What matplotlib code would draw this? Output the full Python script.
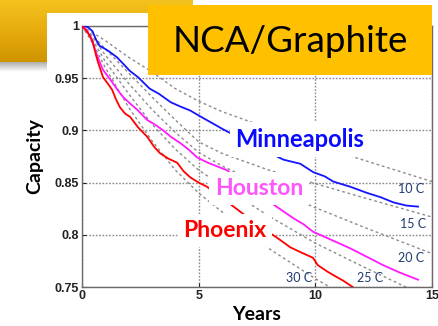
import numpy as np
import matplotlib.pyplot as plt
from matplotlib.patches import Rectangle
from matplotlib.colors import LinearSegmentedColormap

# capacity fade of NCA/Graphite cells in three climates (years, capacity)
years_mpls = [0.0, 0.25, 0.45, 0.6, 0.75, 1.0, 1.2, 1.5, 1.8, 2.05, 2.4, 2.9, 3.3, 3.8,
              4.2, 4.64, 5.1, 5.5, 6.05, 7.0, 8.0, 8.63, 9.36, 9.91, 10.4, 10.77, 11.5,
              12.23, 12.8, 13.35, 13.9, 14.4]
cap_mpls = [1.000, 0.999, 0.995, 0.987, 0.981, 0.978, 0.975, 0.970, 0.963, 0.957, 0.951,
            0.940, 0.935, 0.927, 0.923, 0.919, 0.913, 0.908, 0.901, 0.890, 0.879, 0.872,
            0.868, 0.860, 0.856, 0.851, 0.846, 0.840, 0.836, 0.831, 0.828, 0.827]

years_hou = [0.0, 0.2, 0.4, 0.56, 0.75, 0.9, 1.1, 1.33, 1.55, 1.76, 2.05, 2.36, 2.79, 3.1,
             3.48, 3.8, 4.2, 4.55, 4.94, 5.4, 6.2, 7.5, 8.4, 9.05, 9.5, 9.9, 10.2, 10.8,
             11.5, 12.2, 12.9, 13.6, 14.4]
cap_hou = [1.000, 0.996, 0.988, 0.977, 0.966, 0.958, 0.952, 0.945, 0.938, 0.932, 0.926,
           0.920, 0.910, 0.906, 0.900, 0.894, 0.888, 0.882, 0.874, 0.869, 0.862, 0.840,
           0.826, 0.816, 0.810, 0.803, 0.800, 0.794, 0.787, 0.779, 0.771, 0.764, 0.757]

years_phx = [0.0, 0.2, 0.35, 0.47, 0.6, 0.69, 0.9, 1.1, 1.29, 1.45, 1.63, 1.85, 2.06, 2.4,
             2.79, 3.1, 3.35, 3.7, 4.08, 4.35, 4.64, 5.0, 5.36, 6.2, 7.5, 8.37, 8.93, 9.4,
             9.9, 10.1, 10.5, 10.8, 11.2, 11.6, 11.8]
cap_phx = [1.000, 0.995, 0.990, 0.984, 0.972, 0.965, 0.951, 0.945, 0.939, 0.930, 0.922,
           0.916, 0.913, 0.903, 0.894, 0.884, 0.878, 0.873, 0.869, 0.861, 0.855, 0.850,
           0.846, 0.832, 0.810, 0.797, 0.788, 0.783, 0.778, 0.771, 0.765, 0.761, 0.756,
           0.750, 0.747]

# constant-temperature model curves
temps = ['10 C', '15 C', '20 C', '25 C', '30 C']
years_iso = [0, 0.5, 1, 2, 3, 4, 5, 6, 8, 10, 12, 15]
cap_10 = [1, 0.993, 0.986, 0.970, 0.956, 0.940, 0.928, 0.918, 0.902, 0.886, 0.872, 0.851]
cap_15 = [1, 0.990, 0.978, 0.955, 0.932, 0.910, 0.889, 0.878, 0.862, 0.849, 0.836, 0.817]
cap_20 = [1, 0.988, 0.972, 0.945, 0.920, 0.898, 0.879, 0.866, 0.845, 0.826, 0.808, 0.782]
cap_25 = [1, 0.985, 0.966, 0.935, 0.906, 0.882, 0.862, 0.847, 0.818, 0.792, 0.770, 0.738]
cap_30 = [1, 0.982, 0.960, 0.922, 0.890, 0.862, 0.840, 0.822, 0.787, 0.758, 0.732, 0.700]
iso_caps = [cap_10, cap_15, cap_20, cap_25, cap_30]

W, H = 438, 326
fig = plt.figure(figsize=(W / 100, H / 100), dpi=100)
fig.patch.set_facecolor('white')

def fx(px):
    return px / W

def fy(py):
    return 1 - py / H

# gold banner in the corner, with a soft shadow under it
gold = LinearSegmentedColormap.from_list('gold', ['#f4c21e', '#e6ac0c', '#cf9400'])
bar = fig.add_axes([0, fy(62), fx(193), 62 / H], zorder=0)
bar.imshow(np.linspace(0, 1, 50).reshape(-1, 1), cmap=gold, aspect='auto')
bar.axis('off')
shade = LinearSegmentedColormap.from_list('shade', ['#a8a8a8', '#ffffff'])
sh = fig.add_axes([0, fy(72), fx(193), 10 / H], zorder=0)
sh.imshow(np.linspace(0, 1, 20).reshape(-1, 1), cmap=shade, aspect='auto')
sh.axis('off')

fig.add_artist(Rectangle((fx(47), 0), 1, fy(13), transform=fig.transFigure,
                         facecolor='white', edgecolor='none', zorder=1))

ax = fig.add_axes([fx(82), fy(287), fx(350), 261 / H], zorder=2)

for c in iso_caps:
    ax.plot(years_iso, c, color='#8c8c8c', lw=1.0, ls=(0, (2, 2)), zorder=2)

ax.plot(years_mpls, cap_mpls, color='#1414ff', lw=1.3, zorder=3)
ax.plot(years_hou, cap_hou, color='#ff1aff', lw=1.3, zorder=3)
ax.plot(years_phx, cap_phx, color='#ff0000', lw=1.3, zorder=3)

ax.set_xlim(0, 15)
ax.set_ylim(0.75, 1)
ax.set_xticks([0, 5, 10, 15])
ax.set_yticks([0.75, 0.8, 0.85, 0.9, 0.95, 1])
ax.set_yticklabels(['0.75', '0.8', '0.85', '0.9', '0.95', '1'])
ax.grid(True, color='#8a8a8a', ls=(0, (1.2, 1.2)), lw=1.0, zorder=1)
ax.set_axisbelow(True)
ax.tick_params(direction='in', length=3, width=0.8, pad=2, colors='#222222',
               labelsize=9)
for lab in ax.get_xticklabels() + ax.get_yticklabels():
    lab.set_fontfamily('Liberation Sans')
    lab.set_fontweight('bold')
for s in ax.spines.values():
    s.set_color('#6a6a6a')
    s.set_linewidth(1.0)

ax.set_xlabel('Years', fontsize=14, fontweight='bold', family=['Lato', 'DejaVu Sans'],
              labelpad=3)
ax.set_ylabel('Capacity', fontsize=14, fontweight='bold', family=['Lato', 'DejaVu Sans'],
              labelpad=8)

# city names on white boxes
box = dict(boxstyle='square,pad=0.25', facecolor='white', edgecolor='none')
ax.text(9.34, 0.884, 'Minneapolis', color='#0a0aff', fontsize=17, fontweight='bold',
        family=['Lato', 'DejaVu Sans'], ha='center', va='baseline', bbox=box, zorder=5)
ax.text(7.59, 0.838, 'Houston', color='#ff55ff', fontsize=16.5, fontweight='bold',
        family=['Lato', 'DejaVu Sans'], ha='center', va='baseline', bbox=box, zorder=5)
ax.text(6.13, 0.798, 'Phoenix', color='#ff0000', fontsize=16.5, fontweight='bold',
        family=['Lato', 'DejaVu Sans'], ha='center', va='baseline', bbox=box, zorder=5)

# temperature tags next to the model curves
tag_x = [13.55, 13.65, 13.55, 11.8, 8.75]
tag_y = [0.844, 0.810, 0.778, 0.759, 0.759]
for t, x, y in zip(temps, tag_x, tag_y):
    ax.text(x, y, t, color='#1f3a6e', fontsize=9, family=['Lato', 'DejaVu Sans'],
            ha='left', va='center', zorder=4)

# title block
fig.add_artist(Rectangle((fx(148), fy(75)), fx(284), 70 / H, transform=fig.transFigure,
                         facecolor='#ffc000', edgecolor='none', zorder=3))
fig.text(fx(290), fy(42), 'NCA/Graphite', fontsize=26.5, color='black',
         family=['Lato', 'DejaVu Sans'], ha='center', va='center', zorder=4)

fig.savefig('out.png', dpi=100)
